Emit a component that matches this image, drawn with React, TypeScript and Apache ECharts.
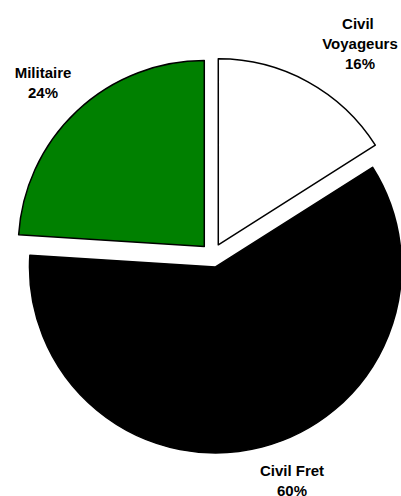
import React, { useEffect, useRef } from "react";
import * as echarts from "echarts";

const categories = ["Civil Voyageurs", "Civil Fret", "Militaire"];
const shares = [16, 60, 24];
const sliceColors = ["#ffffff", "#000000", "#008000"];

export default function App() {
  const ref = useRef<HTMLDivElement>(null);

  useEffect(() => {
    if (!ref.current) return;
    const chart = echarts.init(ref.current, undefined, { renderer: "svg" });
    const labelSpots = [
      [360, 43],
      [292, 480],
      [43, 82],
    ];
    chart.setOption({
      animation: false,
      backgroundColor: "#ffffff",
      graphic: categories.map((name, i) => ({
        type: "text",
        x: labelSpots[i][0],
        y: labelSpots[i][1],
        silent: true,
        style: {
          text: `${name}\n${shares[i]}%`,
          fontFamily: "Liberation Sans, Arial, sans-serif",
          fontWeight: "bold",
          fontSize: 15,
          lineHeight: 20,
          fill: "#000000",
          width: 92,
          overflow: "break",
          align: "center",
          verticalAlign: "middle",
        },
      })),
      series: [
        {
          type: "pie",
          center: [212.5, 255.3],
          radius: 186,
          startAngle: 90,
          clockwise: true,
          selectedMode: "multiple",
          selectedOffset: 12,
          emphasis: { disabled: true },
          itemStyle: { borderColor: "#000000", borderWidth: 1.5 },
          select: { itemStyle: { borderColor: "#000000", borderWidth: 1.5 } },
          label: { show: false },
          labelLine: { show: false },
          data: categories.map((name, i) => ({
            name,
            value: shares[i],
            selected: true,
            itemStyle: { color: sliceColors[i] },
          })),
        },
      ],
    });
    return () => chart.dispose();
  }, []);

  return (
    <div
      ref={ref}
      style={{ position: "fixed", left: 0, top: 0, width: 401, height: 496 }}
    />
  );
}
